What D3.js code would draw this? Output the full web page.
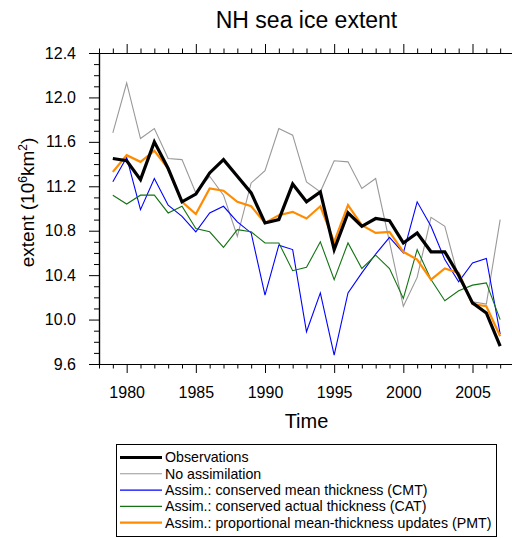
<!DOCTYPE html>
<html>
<head>
<meta charset="utf-8">
<script src="https://cdn.jsdelivr.net/npm/d3@7"></script>
<style>
  html, body { margin: 0; padding: 0; background: #fff; }
  svg { display: block; }
  text { font-family: "Liberation Sans", Arial, Helvetica, sans-serif; fill: #000; }
</style>
</head>
<body>
<div id="chart"></div>
<script>
// Northern Hemisphere September sea ice extent, 10^6 km^2
const years = d3.range(1979, 2008);

const observations = [11.45, 11.43, 11.26, 11.60, 11.36, 11.06, 11.13, 11.32, 11.44, 11.29,
  11.14, 10.87, 10.90, 11.22, 11.06, 11.15, 10.63, 10.96, 10.84, 10.91,
  10.89, 10.69, 10.78, 10.61, 10.61, 10.40, 10.15, 10.06, 9.76];

const noAssimilation = [11.68, 12.13, 11.63, 11.72, 11.45, 11.44, 11.14, 11.29, 11.12, 10.75,
  11.23, 11.34, 11.72, 11.66, 11.24, 11.15, 11.43, 11.42, 11.18, 11.27,
  10.70, 10.12, 10.38, 10.92, 10.84, 10.37, 10.16, 10.14, 10.90];

const assimCMT = [11.24, 11.46, 10.99, 11.27, 11.03, 10.93, 10.79, 10.96, 11.02, 10.88,
  10.78, 10.22, 10.67, 10.63, 9.89, 10.24, 9.68, 10.24, 10.42, 10.59,
  10.74, 10.60, 11.06, 10.84, 10.54, 10.34, 10.51, 10.55, 9.87];

const assimCAT = [11.12, 11.04, 11.12, 11.12, 10.96, 11.02, 10.82, 10.79, 10.65, 10.81,
  10.79, 10.69, 10.69, 10.44, 10.47, 10.70, 10.36, 10.69, 10.46, 10.58,
  10.46, 10.19, 10.63, 10.36, 10.17, 10.26, 10.31, 10.33, 10.00];

const assimPMT = [11.33, 11.48, 11.42, 11.52, 11.36, 11.06, 10.95, 11.18, 11.16, 11.06,
  11.02, 10.87, 10.94, 10.97, 10.91, 11.02, 10.70, 11.03, 10.85, 10.78,
  10.79, 10.61, 10.54, 10.36, 10.46, 10.42, 10.14, 10.12, 9.85];

const seriesNames = [
  "Observations",
  "No assimilation",
  "Assim.: conserved mean thickness (CMT)",
  "Assim.: conserved actual thickness (CAT)",
  "Assim.: proportional mean-thickness updates (PMT)"
];

const xMajorTicks = [1980, 1985, 1990, 1995, 2000, 2005];
const yMajorTicks = [9.6, 10.0, 10.4, 10.8, 11.2, 11.6, 12.0, 12.4];

// Drawing order: thin runs first, observations on top of the model runs
const series = [
  { name: seriesNames[1], values: noAssimilation, color: "#999999", width: 1.1 },
  { name: seriesNames[2], values: assimCMT, color: "#0000ff", width: 1.1 },
  { name: seriesNames[3], values: assimCAT, color: "#137313", width: 1.1 },
  { name: seriesNames[4], values: assimPMT, color: "#ff8c00", width: 2.2 },
  { name: seriesNames[0], values: observations, color: "#000000", width: 3.2 }
];
const legendOrder = [4, 0, 1, 2, 3];

const W = 512, H = 538;
const plot = { left: 99, right: 514, top: 53, bottom: 364 };

const svg = d3.select("#chart").append("svg")
  .attr("width", W).attr("height", H);

const x = d3.scaleLinear().domain([1978, 2008]).range([plot.left, plot.right]);
const y = d3.scaleLinear().domain([9.6, 12.4]).range([plot.bottom, plot.top]);

// Title
svg.append("text")
  .attr("x", (plot.left + plot.right) / 2).attr("y", 28)
  .attr("text-anchor", "middle")
  .style("font-size", "23px")
  .text("NH sea ice extent");

// Series lines
const line = d3.line()
  .x((d, i) => x(years[i]))
  .y(d => y(d));

const linesG = svg.append("g");
series.forEach(s => {
  linesG.append("path")
    .datum(s.values)
    .attr("fill", "none")
    .attr("stroke", s.color)
    .attr("stroke-width", s.width)
    .attr("stroke-linejoin", "miter")
    .attr("d", line);
});

// Axes: outward major and minor ticks on bottom, top and left
const minorYears = years.concat([1978, 2008]).filter(v => xMajorTicks.indexOf(v) < 0);
const yMinor = d3.range(96, 125).map(v => v / 10).filter(v => yMajorTicks.every(t => Math.abs(t - v) > 1e-6));

function styleAxis(g) {
  g.select(".domain").attr("stroke", "#000").attr("stroke-width", 1.2);
  g.selectAll(".tick line").attr("stroke", "#000").attr("stroke-width", 1);
}

// bottom
svg.append("g").attr("transform", `translate(0,${plot.bottom})`)
  .call(d3.axisBottom(x).tickValues(minorYears).tickSize(4.5).tickSizeOuter(0).tickFormat(""))
  .call(styleAxis);
const xAxis = svg.append("g").attr("transform", `translate(0,${plot.bottom})`)
  .call(d3.axisBottom(x).tickValues(xMajorTicks).tickSize(9).tickSizeOuter(0).tickPadding(13.5).tickFormat(d3.format("d")))
  .call(styleAxis);
xAxis.selectAll("text").style("font-size", "16px").attr("fill", "#000");

// top
svg.append("g").attr("transform", `translate(0,${plot.top})`)
  .call(d3.axisTop(x).tickValues(minorYears).tickSize(4.5).tickSizeOuter(0).tickFormat(""))
  .call(styleAxis);
svg.append("g").attr("transform", `translate(0,${plot.top})`)
  .call(d3.axisTop(x).tickValues(xMajorTicks).tickSize(9).tickSizeOuter(0).tickFormat(""))
  .call(styleAxis);

// left
svg.append("g").attr("transform", `translate(${plot.left},0)`)
  .call(d3.axisLeft(y).tickValues(yMinor).tickSize(5).tickSizeOuter(0).tickFormat(""))
  .call(styleAxis);
const yAxis = svg.append("g").attr("transform", `translate(${plot.left},0)`)
  .call(d3.axisLeft(y).tickValues(yMajorTicks).tickSize(10).tickSizeOuter(0).tickPadding(13).tickFormat(d3.format(".1f")))
  .call(styleAxis);
yAxis.selectAll("text").style("font-size", "16px").attr("fill", "#000");

// right frame edge
svg.append("line")
  .attr("x1", plot.right).attr("x2", plot.right)
  .attr("y1", plot.top).attr("y2", plot.bottom)
  .attr("stroke", "#000").attr("stroke-width", 1.2);

// Axis titles
svg.append("text")
  .attr("x", (plot.left + plot.right) / 2).attr("y", 428)
  .attr("text-anchor", "middle")
  .style("font-size", "20px")
  .text("Time");

const yTitle = svg.append("text")
  .attr("transform", `translate(34,${(plot.top + plot.bottom) / 2 - 6}) rotate(-90)`)
  .attr("text-anchor", "middle")
  .style("font-size", "19px");
yTitle.append("tspan").text("extent (10");
yTitle.append("tspan").attr("dy", -7).style("font-size", "12px").text("6");
yTitle.append("tspan").attr("dy", 7).text("km");
yTitle.append("tspan").attr("dy", -7).style("font-size", "12px").text("2");
yTitle.append("tspan").attr("dy", 7).text(")");

// Legend
const legend = svg.append("g");
legend.append("rect")
  .attr("x", 116.5).attr("y", 444.5)
  .attr("width", 380).attr("height", 92)
  .attr("fill", "#fff").attr("stroke", "#000").attr("stroke-width", 1);

legendOrder.forEach((si, row) => {
  const s = series[si];
  const cy = 457.5 + row * 16.3;
  legend.append("line")
    .attr("x1", 120).attr("x2", 162)
    .attr("y1", cy).attr("y2", cy)
    .attr("stroke", s.color)
    .attr("stroke-width", s.width);
  legend.append("text")
    .attr("x", 165).attr("y", cy)
    .attr("dy", "0.35em")
    .style("font-size", "14.2px")
    .text(s.name);
});
</script>
</body>
</html>
